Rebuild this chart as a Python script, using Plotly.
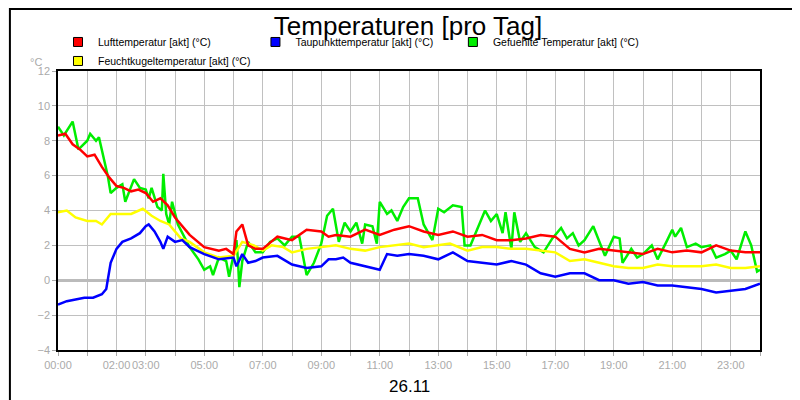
import plotly.graph_objects as go

# hours of the day and temperatures
luft_t = [0, .25, .5, .75, 1, 1.25, 1.5, 1.75, 2, 2.25, 2.5, 2.75, 3, 3.25, 3.5, 3.75, 4, 4.5, 5, 5.5, 5.75, 6, 6.1, 6.3, 6.5, 6.75, 7, 7.5, 8, 8.5, 9, 9.25, 9.5, 10, 10.5, 11, 11.5, 12, 12.5, 13, 13.5, 14, 14.5, 15, 15.5, 16, 16.5, 17, 17.5, 18, 18.5, 19, 19.5, 20, 20.5, 21, 21.5, 22, 22.5, 23, 23.5, 24]
luft_v = [8.3, 8.4, 7.8, 7.5, 7.1, 7.2, 6.5, 5.9, 5.4, 5.3, 5.1, 5.2, 5.0, 4.5, 4.7, 4.3, 3.6, 2.6, 1.9, 1.7, 1.8, 1.5, 2.8, 3.2, 2.0, 1.8, 1.8, 2.5, 2.3, 2.9, 2.8, 2.5, 2.6, 2.5, 2.9, 2.6, 2.9, 3.1, 2.8, 2.6, 2.8, 2.5, 2.6, 2.3, 2.3, 2.4, 2.6, 2.5, 1.8, 1.6, 1.8, 1.7, 1.6, 1.5, 1.8, 1.6, 1.7, 1.6, 2.0, 1.7, 1.6, 1.6]

tau_t = [0, .3, .6, .9, 1.2, 1.5, 1.65, 1.8, 2, 2.2, 2.5, 2.8, 3.0, 3.1, 3.3, 3.5, 3.6, 3.75, 4, 4.25, 4.5, 5, 5.5, 6, 6.1, 6.3, 6.5, 6.75, 7, 7.5, 8, 8.5, 9, 9.25, 9.5, 9.75, 10, 10.5, 11, 11.25, 11.6, 12, 12.5, 13, 13.5, 14, 14.5, 15, 15.5, 16, 16.5, 17, 17.5, 18, 18.5, 19, 19.5, 20, 20.5, 21, 21.5, 22, 22.5, 23, 23.5, 24]
tau_v = [-1.4, -1.2, -1.1, -1.0, -1.0, -0.8, -0.5, 1.0, 1.8, 2.2, 2.4, 2.7, 3.1, 3.2, 2.8, 2.2, 1.8, 2.5, 2.2, 2.3, 1.9, 1.5, 1.2, 1.3, 0.8, 1.5, 1.0, 1.1, 1.3, 1.4, 0.9, 0.7, 0.8, 1.2, 1.2, 1.3, 1.0, 0.8, 0.6, 1.5, 1.4, 1.5, 1.4, 1.2, 1.6, 1.1, 1.0, 0.9, 1.1, 0.9, 0.4, 0.2, 0.4, 0.4, 0.0, 0.0, -0.2, -0.1, -0.3, -0.3, -0.4, -0.5, -0.7, -0.6, -0.5, -0.2]

gef_t = [0, .2, .5, .7, 1, 1.1, 1.3, 1.4, 1.7, 1.8, 2, 2.2, 2.3, 2.5, 2.6, 2.8, 3, 3.1, 3.2, 3.4, 3.55, 3.6, 3.7, 3.8, 3.9, 4.1, 4.5, 4.8, 5, 5.2, 5.3, 5.5, 5.75, 5.85, 6.0, 6.1, 6.15, 6.2, 6.3, 6.5, 6.75, 7, 7.25, 7.5, 7.75, 8, 8.25, 8.4, 8.5, 8.75, 9, 9.2, 9.4, 9.6, 9.8, 10, 10.2, 10.4, 10.5, 10.75, 10.9, 11, 11.25, 11.4, 11.6, 11.8, 12, 12.3, 12.5, 12.8, 13, 13.2, 13.5, 13.8, 13.9, 14.1, 14.3, 14.6, 14.8, 15, 15.2, 15.3, 15.5, 15.6, 15.8, 16, 16.3, 16.6, 16.9, 17.2, 17.4, 17.6, 17.8, 18, 18.3, 18.5, 18.7, 19, 19.2, 19.3, 19.6, 19.8, 20, 20.3, 20.5, 20.8, 21, 21.1, 21.3, 21.5, 21.8, 22, 22.3, 22.5, 22.8, 23, 23.2, 23.5, 23.7, 23.9, 24]
gef_v = [8.8, 8.3, 9.1, 7.5, 8.0, 8.4, 8.0, 8.2, 6.0, 5.0, 5.3, 5.5, 4.5, 5.3, 5.8, 5.3, 5.2, 4.7, 5.3, 4.2, 4.0, 6.1, 3.8, 3.2, 4.5, 3.2, 1.9, 1.2, 0.6, 0.8, 0.3, 1.3, 1.1, 0.2, 1.5, 2.3, 1.2, -0.4, 1.1, 2.2, 1.6, 1.6, 2.2, 2.4, 2.0, 2.5, 2.5, 1.2, 0.3, 1.0, 2.1, 3.7, 4.1, 2.2, 3.3, 2.8, 3.3, 2.1, 3.2, 3.1, 2.1, 4.5, 3.8, 4.0, 3.4, 4.2, 4.7, 4.7, 3.2, 2.3, 4.1, 3.9, 4.3, 4.2, 2.0, 2.0, 2.8, 4.0, 3.4, 3.8, 2.7, 3.9, 1.8, 3.9, 2.2, 2.7, 1.9, 1.6, 2.4, 3.0, 2.4, 2.7, 2.0, 2.3, 3.1, 2.3, 1.4, 2.5, 2.4, 1.0, 1.8, 1.3, 1.5, 2.0, 1.2, 2.2, 2.9, 2.5, 3.0, 1.9, 2.1, 1.9, 2.0, 1.3, 1.5, 1.7, 1.2, 2.8, 2.0, 0.5, 0.6]

feucht_t = [0, .3, .6, 1, 1.3, 1.5, 1.8, 2.2, 2.5, 2.9, 3.2, 3.5, 3.8, 4.2, 4.5, 5, 5.5, 6, 6.3, 6.7, 7, 7.3, 7.7, 8, 8.5, 9, 9.5, 10, 10.5, 11, 11.5, 12, 12.5, 13, 13.4, 14, 14.5, 15, 15.5, 16, 16.5, 17, 17.5, 18, 18.5, 19, 19.5, 20, 20.5, 21, 21.5, 22, 22.5, 23, 23.5, 24]
feucht_v = [3.9, 4.0, 3.6, 3.4, 3.4, 3.2, 3.8, 3.8, 3.8, 4.1, 3.7, 3.4, 3.2, 2.4, 2.2, 1.6, 1.3, 1.4, 2.2, 2.0, 1.7, 2.0, 1.9, 1.6, 1.8, 1.9, 2.0, 1.8, 1.7, 1.9, 2.0, 2.1, 1.9, 2.0, 2.1, 1.7, 1.9, 1.9, 1.8, 1.8, 1.7, 1.6, 1.1, 1.2, 1.0, 0.8, 0.7, 0.7, 0.9, 0.8, 0.8, 0.8, 0.9, 0.7, 0.7, 0.8]

tick_vals = [0, 2, 3, 5, 7, 9, 11, 13, 15, 17, 19, 21, 23]
tick_text = [f"{h:02d}:00" for h in tick_vals]

series = [
    ("Lufttemperatur [akt] (°C)", luft_t, luft_v, "#ff0000"),
    ("Taupunkttemperatur [akt] (°C)", tau_t, tau_v, "#0000ff"),
    ("Gefuehlte Temperatur [akt] (°C)", gef_t, gef_v, "#00ee00"),
    ("Feuchtkugeltemperatur [akt] (°C)", feucht_t, feucht_v, "#ffff00"),
]
draw_order = [2, 3, 1, 0]

fig = go.Figure()
for i in draw_order:
    name, t, v, c = series[i]
    fig.add_trace(go.Scatter(x=t, y=v, mode="lines", line=dict(color=c, width=2.5),
                             showlegend=False, hoverinfo="skip"))
# legend entries as square boxes
for name, t, v, c in series:
    fig.add_trace(go.Scatter(x=[None], y=[None], mode="markers", name=name,
                             marker=dict(symbol="square", size=9, color=c,
                                         line=dict(color="black", width=1))))

fig.update_layout(
    width=800, height=400,
    margin=dict(l=50, r=48, t=63, b=58, autoexpand=False),
    paper_bgcolor="white", plot_bgcolor="white",
    font=dict(family="Liberation Sans, Arial", color="black"),
    title=dict(text="Temperaturen [pro Tag]", x=0.5, y=0.955, xanchor="center", yanchor="middle",
               font=dict(size=26)),
    legend=dict(orientation="h", x=0.0, y=1.07, xanchor="left", yanchor="middle",
                font=dict(size=10.5), itemwidth=30, entrywidthmode="pixels", entrywidth=0,
                bgcolor="rgba(0,0,0,0)"),
    xaxis=dict(range=[0, 24], tickmode="array", tickvals=tick_vals, ticktext=tick_text,
               tickangle=0,
               showgrid=True, gridcolor="#c0c0c0", gridwidth=1,
               showline=True, linecolor="black", linewidth=1.5, mirror=True,
               ticks="outside", ticklen=4, tickcolor="#aaaaaa",
               tickfont=dict(size=11, color="#aaaaaa"), zeroline=False),
    yaxis=dict(range=[-4, 12], dtick=2, showgrid=True, gridcolor="#c0c0c0",
               showline=True, linecolor="black", linewidth=1.5, mirror=True,
               zeroline=True, zerolinecolor="#bbbbbb", zerolinewidth=3,
               ticks="outside", ticklen=4, tickcolor="#aaaaaa",
               tickfont=dict(size=11, color="#aaaaaa")),
    annotations=[
        dict(text="°C", xref="paper", yref="paper", x=-0.02, y=1.06, showarrow=False,
             xanchor="right", font=dict(size=11, color="#aaaaaa")),
        dict(text="26.11", xref="paper", yref="paper", x=0.5, y=-0.13, showarrow=False,
             yanchor="middle", font=dict(size=17, color="black")),
    ],
    shapes=[dict(type="rect", xref="paper", yref="paper", x0=-0.0685, x1=1.0655,
                 y0=-0.2035, y1=1.2225, line=dict(color="black", width=2))],
)
# hourly vertical grid lines (unlabelled hours too)
fig.update_xaxes(minor=dict(dtick=1, showgrid=True, gridcolor="#c0c0c0", ticks="outside",
                            ticklen=4, tickcolor="#aaaaaa"))

fig.write_html("out.html")
